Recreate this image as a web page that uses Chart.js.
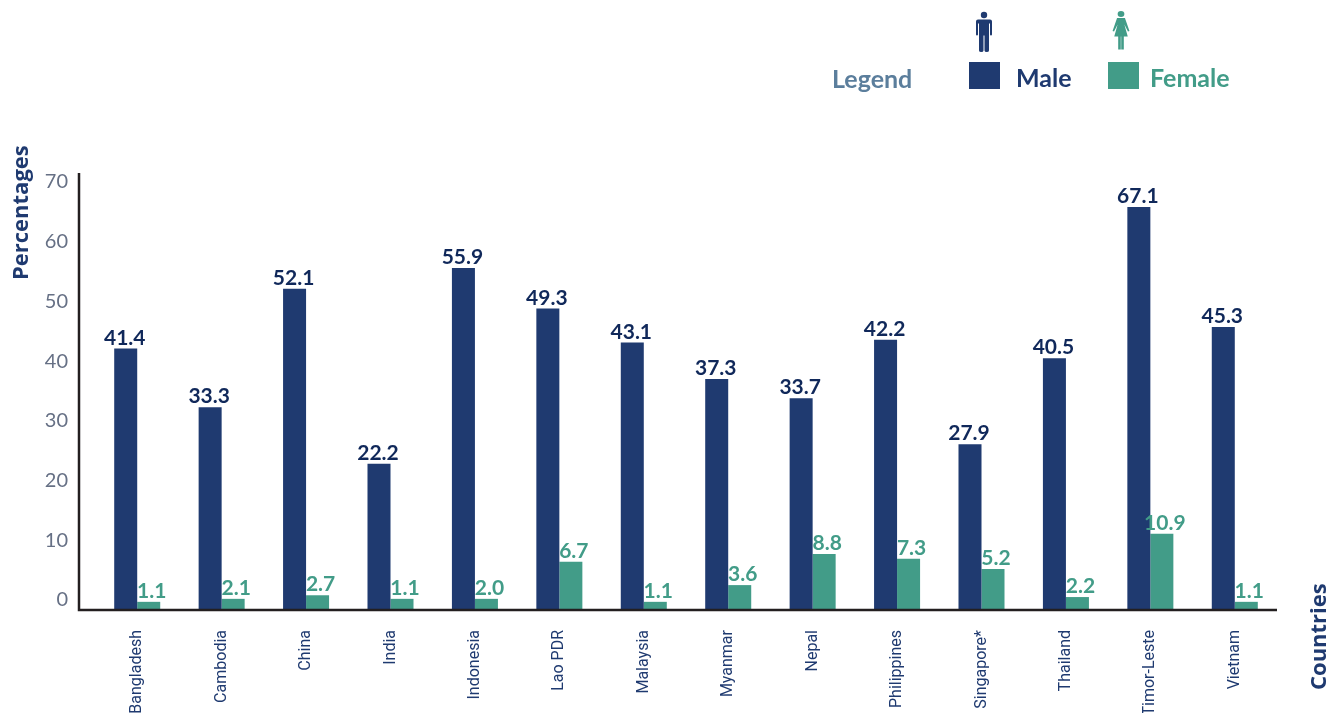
<!DOCTYPE html>
<html>
<head>
<meta charset="utf-8">
<script src="https://cdn.jsdelivr.net/npm/chart.js@4"></script>
<style>
    html, body { margin: 0; padding: 0; background: #fff; overflow: hidden; }
    #wrap { position: relative; width: 1332px; height: 713px; font-family: Lato, sans-serif; font-weight: 700; }
    #wrap span, #wrap i, #wrap svg { position: absolute; white-space: nowrap; font-style: normal; line-height: 1; }
</style>
</head>
<body>
<div id="wrap">
    <canvas id="chart" width="1332" height="713"></canvas>
    <span style="left:832px;top:66px;font-size:25px;color:#5b7e9c">Legend</span>
    <svg style="left:975px;top:11px" width="18" height="41" viewBox="0 0 18 41" fill="#1f3a70">
        <circle cx="9" cy="4" r="3.2"/>
        <path d="M3 8.500h12q2 0 2 2v13q0 1-1 1t-1-1v-11h-1v27q0 1.500-2.250 1.500t-2.250-1.500v-15h-1v15q0 1.500-2.250 1.500t-2.250-1.500v-27h-1v11q0 1-1 1t-1-1v-13q0-2 2-2z"/>
    </svg>
    <i id="maleBox" style="left:969px;top:62px;width:31px;height:27px"></i>
    <span id="maleText" style="left:1016px;top:65px;font-size:25px"></span>
    <svg style="left:1112px;top:10px" width="18" height="41" viewBox="1.500 0 16 41" preserveAspectRatio="none" fill="#429c88">
        <circle cx="9.500" cy="4" r="3"/>
        <path d="M6 8h7l4 13-1.300.6-3.200-7 3 12h-3.500v13h-2.300v-13h-.4v13h-2.300v-13h-3.500l3-12-3.200 7-1.300-.6z"/>
    </svg>
    <i id="femaleBox" style="left:1108px;top:62px;width:31px;height:27px"></i>
    <span id="femaleText" style="left:1150px;top:65px;font-size:25px"></span>
</div>
<script>
const countries = ["Bangladesh", "Cambodia", "China", "India", "Indonesia", "Lao PDR", "Malaysia", "Myanmar", "Nepal", "Philippines", "Singapore*", "Thailand", "Timor-Leste", "Vietnam"];
//printed numbers above the bars
const maleLabels = ["41.4", "33.3", "52.1", "22.2", "55.9", "49.3", "43.1", "37.3", "33.7", "42.2", "27.9", "40.5", "67.1", "45.3"];
const femaleLabels = ["1.1", "2.1", "2.7", "1.1", "2.0", "6.7", "1.1", "3.6", "8.8", "7.3", "5.2", "2.2", "10.9", "1.1"];
//bar heights, the drawn bars do not follow the printed numbers exactly
const maleValues = [43.6, 33.8, 53.6, 24.3, 57.1, 50.3, 44.6, 38.5, 35.3, 45.1, 27.6, 42.0, 67.3, 47.2];
const femaleValues = [1.2, 1.7, 2.3, 1.7, 1.7, 7.9, 1.2, 4.0, 9.2, 8.4, 6.7, 2.0, 12.6, 1.2];

const MALE_COLOR = "#1f3a70";
const FEMALE_COLOR = "#429c88";
const MALE_LABEL_COLOR = "#10285a";

//hand made legend, same idea as an html legend
document.getElementById("maleBox").style.background = MALE_COLOR;
document.getElementById("femaleBox").style.background = FEMALE_COLOR;
const maleText = document.getElementById("maleText");
maleText.textContent = "Male";
maleText.style.color = MALE_COLOR;
const femaleText = document.getElementById("femaleText");
femaleText.textContent = "Female";
femaleText.style.color = FEMALE_COLOR;

const barLabels = {
    id: "barLabels",
    afterDatasetsDraw(chart) {
        const ctx = chart.ctx;
        ctx.save();
        ctx.textAlign = "center";
        ctx.textBaseline = "alphabetic";
        ctx.font = "700 21px Lato";
        chart.data.datasets.forEach((dataset, d) => {
            chart.getDatasetMeta(d).data.forEach((bar, i) => {
                ctx.fillStyle = dataset.labelColor;
                ctx.fillText(dataset.printed[i], bar.x - (d === 0 ? 1 : -3), bar.y - 4);
            });
        });
        ctx.restore();
    }
};

const axisLines = {
    id: "axisLines",
    afterDraw(chart) {
        const ctx = chart.ctx;
        const area = chart.chartArea;
        const left = area.left - 16;
        ctx.save();
        ctx.strokeStyle = "#231f20";
        ctx.lineWidth = 2.5;
        ctx.beginPath();
        ctx.moveTo(left, area.top);
        ctx.lineTo(left, area.bottom + 1);
        ctx.lineTo(area.right, area.bottom + 1);
        ctx.stroke();
        //axis titles
        ctx.fillStyle = MALE_COLOR;
        ctx.font = "700 22px 'Open Sans'";
        ctx.textBaseline = "middle";
        ctx.textAlign = "left";
        ctx.translate(22, 280);
        ctx.rotate(-Math.PI / 2);
        ctx.fillText("Percentages", 0, 0);
        ctx.rotate(Math.PI / 2);
        ctx.translate(1320 - 22, 690 - 280);
        ctx.rotate(-Math.PI / 2);
        ctx.fillText("Countries", 0, 0);
        ctx.restore();
    }
};

new Chart(document.getElementById("chart").getContext("2d"), {
    type: "bar",
    data: {
        labels: countries,
        datasets: [
            { label: "Male", data: maleValues, backgroundColor: MALE_COLOR, printed: maleLabels, labelColor: MALE_LABEL_COLOR },
            { label: "Female", data: femaleValues, backgroundColor: FEMALE_COLOR, printed: femaleLabels, labelColor: FEMALE_COLOR }
        ]
    },
    options: {
        responsive: false,
        animation: false,
        layout: { padding: { top: 173, right: 55 } },
        datasets: { bar: { barPercentage: 1, categoryPercentage: 0.545 } },
        plugins: { legend: { display: false }, tooltip: { enabled: false } },
        scales: {
            x: {
                afterFit(scale) { scale.height = 104; },
                grid: { display: false, drawTicks: false },
                border: { display: false },
                ticks: {
                    minRotation: 90,
                    maxRotation: 90,
                    autoSkip: false,
                    padding: 21,
                    color: MALE_COLOR,
                    font: { family: "Roboto", size: 16 }
                }
            },
            y: {
                min: 0,
                max: 73,
                afterFit(scale) { scale.width = 95; },
                grid: { display: false, drawTicks: false },
                border: { display: false },
                ticks: {
                    stepSize: 10,
                    includeBounds: false,
                    padding: 27,
                    labelOffset: -9,
                    color: "#667085",
                    font: { family: "Lato", size: 20 }
                }
            }
        }
    },
    plugins: [barLabels, axisLines]
});
</script>
</body>
</html>
